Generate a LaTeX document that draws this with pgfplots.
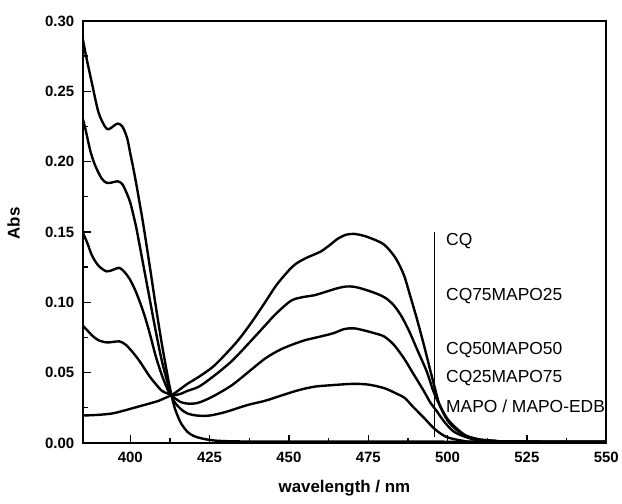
\documentclass[border=0pt]{standalone}
\usepackage{fontspec}
\setmainfont{Liberation Sans}
\usepackage{pgfplots}
\pgfplotsset{compat=1.18}

\begin{document}
\begin{tikzpicture}
\begin{axis}[
    scale only axis,
    width=526pt, height=424pt,
    xmin=385, xmax=550,
    ymin=0, ymax=0.30,
    xtick={400,425,450,475,500,525,550},
    ytick={0,0.05,0.10,0.15,0.20,0.25,0.30},
    minor x tick num=1,
    minor y tick num=1,
    xtick pos=bottom, ytick pos=left,
    tick align=inside,
    major tick length=8pt, minor tick length=5pt,
    every tick/.style={black, line width=1.4pt},
    axis line style={line width=2pt},
    /pgf/number format/assume math mode=true,
    yticklabel style={/pgf/number format/fixed, /pgf/number format/fixed zerofill,
        /pgf/number format/precision=2, xshift=-5pt},
    xticklabel style={yshift=-6pt},
    tick label style={font=\fontsize{15}{15}\selectfont\bfseries},
    label style={font=\fontsize{17}{17}\selectfont\bfseries},
    xlabel={wavelength / nm},
    ylabel={Abs},
    xlabel style={at={(axis description cs:0.5,-0.106)}, anchor=center},
    ylabel style={at={(axis description cs:-0.132,0.52)}, anchor=center},
    clip=true,
]
% MAPO / MAPO-EDB
\addplot[black, line width=2.4pt, smooth] coordinates {
(385,0.288)(386,0.276)(388,0.255)(390,0.235)(392,0.225)(393,0.223)(394,0.224)
(396,0.227)(397.5,0.225)(399,0.217)(400,0.206)(401,0.195)(402,0.183)(403,0.170)
(404,0.157)(406,0.128)(408,0.098)(410,0.070)(412,0.045)(413,0.034)(414,0.025)
(415,0.019)(416,0.014)(418,0.008)(420,0.005)(423,0.003)(428,0.0015)(440,0.001)
(480,0.001)(520,0.0008)(550,0.0008)};
% CQ25MAPO75
\addplot[black, line width=2.4pt, smooth] coordinates {
(385,0.231)(386,0.222)(387.5,0.207)(389,0.197)(391,0.188)(392.5,0.185)(394,0.185)
(396,0.186)(397.5,0.184)(399,0.177)(400,0.171)(401,0.162)(402,0.152)(404,0.128)
(406,0.104)(408,0.080)(410,0.058)(412,0.041)(413,0.034)(414,0.029)(416,0.024)
(418,0.021)(421,0.0195)(425,0.0195)(430,0.022)(437,0.027)(442.5,0.030)(448,0.034)
(453,0.0375)(458,0.040)(463,0.041)(470,0.042)(475,0.0415)(480,0.039)(484,0.035)
(486.5,0.032)(489,0.026)(492.5,0.018)(495,0.012)(497,0.008)(500,0.004)(505,0.0015)
(510,0.001)(550,0.0008)};
% CQ50MAPO50
\addplot[black, line width=2.4pt, smooth] coordinates {
(385,0.150)(386.5,0.142)(388,0.133)(390,0.126)(392.5,0.122)(394.5,0.123)(396.5,0.1245)
(398,0.122)(399.7,0.117)(401.5,0.109)(403.4,0.098)(405,0.087)(406.5,0.075)(408,0.062)
(410,0.048)(412,0.037)(413,0.034)(414,0.032)(416,0.029)(418,0.028)(420,0.028)
(422,0.029)(426,0.033)(432,0.041)(437,0.050)(442.5,0.060)(447,0.066)(450.6,0.0695)
(455,0.073)(460,0.0757)(464,0.078)(467.5,0.081)(470.5,0.0815)(473.7,0.080)(477,0.078)
(480,0.0757)(483,0.070)(486.3,0.060)(489,0.050)(492.5,0.037)(494.5,0.029)(496.6,0.0226)
(499,0.015)(502,0.008)(506,0.004)(510,0.002)(520,0.001)(550,0.0008)};
% CQ75MAPO25
\addplot[black, line width=2.4pt, smooth] coordinates {
(385,0.0835)(386.5,0.080)(388,0.0764)(390,0.073)(392.5,0.0715)(394.5,0.0718)(396.6,0.0722)
(398.5,0.070)(400.6,0.065)(403,0.058)(405.9,0.048)(408,0.042)(410,0.037)(412,0.035)
(413,0.034)(414,0.034)(416,0.035)(418,0.037)(421.6,0.040)(426,0.047)(431.9,0.058)
(437,0.070)(442.5,0.0835)(446,0.092)(450.6,0.101)(454,0.1035)(458,0.105)(461,0.107)
(465.3,0.110)(468,0.1112)(470.6,0.111)(474,0.109)(477.8,0.106)(480.5,0.103)(483,0.098)
(485.5,0.090)(488,0.079)(490.5,0.066)(493.4,0.051)(495.5,0.037)(497.5,0.027)(500,0.017)
(503,0.010)(506,0.005)(510,0.0025)(515,0.0015)(520,0.001)(550,0.0008)};
% CQ
\addplot[black, line width=2.4pt, smooth] coordinates {
(385,0.0195)(390,0.020)(394.4,0.021)(398,0.023)(402.8,0.026)(406,0.028)(409,0.030)
(411,0.032)(413,0.034)(415,0.037)(418,0.042)(421.6,0.047)(426,0.054)(430,0.063)
(434,0.073)(438,0.085)(442.5,0.100)(446,0.112)(449.7,0.122)(452,0.127)(455,0.131)
(458,0.134)(460,0.136)(462.5,0.140)(465.3,0.145)(468,0.148)(470.6,0.1486)(474,0.147)
(477.8,0.1437)(480,0.141)(481.9,0.1366)(484,0.130)(486.3,0.119)(488.3,0.104)(490.3,0.0885)
(492.5,0.070)(494.4,0.053)(496,0.039)(497.5,0.027)(500,0.016)(503,0.009)(506,0.005)
(510,0.0025)(515,0.0015)(520,0.001)(550,0.0008)};
% marker line
\addplot[black, line width=1.2pt] coordinates {(496,0.004) (496,0.150)};

\begin{scope}[every node/.style={anchor=west, inner sep=0pt,
    font=\fontsize{17.5}{17.5}\selectfont}]
\node at (axis cs:499.5,0.1437) {CQ};
\node at (axis cs:499.5,0.1047) {CQ75MAPO25};
\node at (axis cs:499.5,0.0658) {CQ50MAPO50};
\node at (axis cs:499.5,0.0460) {CQ25MAPO75};
\node at (axis cs:499.5,0.0262) {MAPO / MAPO-EDB};
\end{scope}
\end{axis}
\path ([shift={(-83pt,-61pt)}]current axis.south west)
    rectangle ([shift={(13pt,21pt)}]current axis.north east);
\end{tikzpicture}
\end{document}
